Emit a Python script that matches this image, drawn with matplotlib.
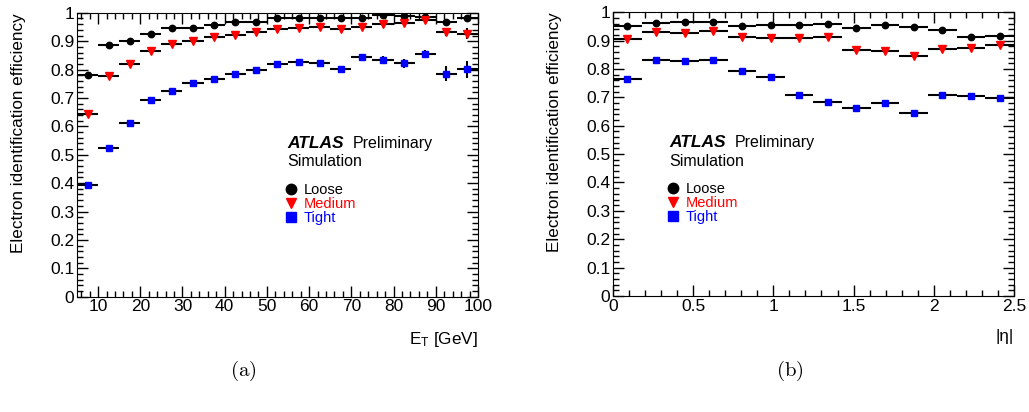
import matplotlib.pyplot as plt
import numpy as np
from matplotlib.lines import Line2D
from matplotlib.ticker import MultipleLocator, FormatStrFormatter

plt.rcParams['font.family'] = ['Liberation Sans', 'DejaVu Sans']
plt.rcParams['mathtext.default'] = 'regular'

# Panel (a): efficiency vs E_T, bins of 5 GeV from 5 to 100
et_edges = np.arange(5, 101, 5)
loose_et = [0.782, 0.885, 0.902, 0.927, 0.946, 0.948, 0.957, 0.966, 0.969, 0.980,
            0.981, 0.982, 0.982, 0.981, 0.991, 0.988, 0.985, 0.967, 0.981]
medium_et = [0.644, 0.779, 0.820, 0.866, 0.891, 0.899, 0.914, 0.921, 0.932, 0.943,
             0.948, 0.950, 0.943, 0.950, 0.961, 0.963, 0.975, 0.932, 0.926]
tight_et = [0.395, 0.525, 0.612, 0.692, 0.726, 0.752, 0.768, 0.783, 0.799, 0.818,
            0.827, 0.823, 0.802, 0.846, 0.835, 0.822, 0.855, 0.786, 0.801]
loose_et_err = [0.004, 0.003, 0.002, 0.002, 0.002, 0.002, 0.002, 0.002, 0.002, 0.002,
                0.002, 0.002, 0.002, 0.003, 0.003, 0.004, 0.005, 0.012, 0.008]
medium_et_err = [0.010, 0.005, 0.004, 0.003, 0.003, 0.003, 0.003, 0.003, 0.003, 0.003,
                 0.003, 0.003, 0.003, 0.004, 0.005, 0.006, 0.008, 0.015, 0.020]
tight_et_err = [0.006, 0.004, 0.004, 0.004, 0.004, 0.004, 0.004, 0.004, 0.004, 0.004,
                0.005, 0.005, 0.006, 0.010, 0.012, 0.015, 0.015, 0.025, 0.030]

# Panel (b): efficiency vs |eta|, 14 bins from 0 to 2.5
eta_edges = np.linspace(0, 2.5, 15)
loose_eta = [0.951, 0.963, 0.965, 0.965, 0.951, 0.954, 0.953, 0.959, 0.945, 0.956,
             0.949, 0.938, 0.912, 0.916]
medium_eta = [0.907, 0.930, 0.926, 0.933, 0.912, 0.908, 0.908, 0.912, 0.867, 0.864,
              0.846, 0.871, 0.873, 0.883]
tight_eta = [0.765, 0.833, 0.828, 0.833, 0.794, 0.773, 0.707, 0.684, 0.663, 0.680,
             0.644, 0.709, 0.704, 0.697]

labels = ['Loose', 'Medium', 'Tight']
colours = ['black', 'red', 'blue']
markers = ['o', 'v', 's']
sizes = [4.6, 5.4, 4.8]

fig = plt.figure(figsize=(10.29, 4.12), dpi=100)
ax1 = fig.add_axes([0.0748, 0.2799, 0.3897, 0.689])
ax2 = fig.add_axes([0.5957, 0.2815, 0.3897, 0.689])


def draw(ax, edges, series, errs):
    centres = (edges[:-1] + edges[1:]) / 2
    half = (edges[1:] - edges[:-1]) / 2
    for vals, err, c, m, s in zip(series, errs, colours, markers, sizes):
        ax.errorbar(centres, vals, xerr=half, yerr=err, fmt=m, color=c,
                    markersize=s, ecolor='black', elinewidth=1.5, capsize=0)


draw(ax1, et_edges, [loose_et, medium_et, tight_et],
     [loose_et_err, medium_et_err, tight_et_err])
draw(ax2, eta_edges, [loose_eta, medium_eta, tight_eta], [None, None, None])

ax1.set_xlim(5, 100)
ax2.set_xlim(0, 2.5)
ax1.xaxis.set_major_locator(MultipleLocator(10))
ax1.xaxis.set_minor_locator(MultipleLocator(2))
ax2.xaxis.set_major_locator(MultipleLocator(0.5))
ax2.xaxis.set_minor_locator(MultipleLocator(0.1))

for ax, x0 in ((ax1, 0.524), (ax2, 0.14)):
    ax.set_ylim(0, 1)
    ax.yaxis.set_major_locator(MultipleLocator(0.1))
    ax.yaxis.set_minor_locator(MultipleLocator(0.02))
    ax.xaxis.set_major_formatter(FormatStrFormatter('%g'))
    ax.yaxis.set_major_formatter(FormatStrFormatter('%g'))
    ax.tick_params(which='both', direction='in', top=True, right=True,
                   labelsize=12.5, width=1)
    ax.tick_params(which='major', length=8, pad=2)
    ax.tick_params(which='minor', length=4)
    ax.set_ylabel('Electron identification efficiency', loc='top', fontsize=12.3,
                  labelpad=17)
    # ATLAS label block
    ax.text(x0, 0.54, 'ATLAS', transform=ax.transAxes, fontsize=12.5,
            fontweight='bold', fontstyle='italic', va='center')
    ax.text(x0 + 0.163, 0.54, 'Preliminary', transform=ax.transAxes,
            fontsize=11.5, va='center')
    ax.text(x0, 0.475, 'Simulation', transform=ax.transAxes, fontsize=11.5,
            va='center')
    handles = [Line2D([], [], color=c, marker=m, linestyle='', markersize=7.5)
               for c, m in zip(colours, markers)]
    ax.legend(handles, labels, labelcolor=colours, frameon=False, fontsize=10.5,
              loc='upper left', bbox_to_anchor=(x0 - 0.005, 0.40),
              handlelength=0.8, handletextpad=0.5, labelspacing=0.0,
              borderpad=0, borderaxespad=0)

ax1.set_xlabel('E$_{T}$ [GeV]', loc='right', fontsize=12.3, labelpad=11)
ax2.set_xlabel('|η|', loc='right', fontsize=12.3, labelpad=11)

plt.rcParams['mathtext.fontset'] = 'cm'
fig.text(0.236, 0.10, r'$\mathrm{(a)}$', fontsize=15, ha='center', va='center')
fig.text(0.768, 0.10, r'$\mathrm{(b)}$', fontsize=15, ha='center', va='center')

fig.savefig('out.png', dpi=100)
